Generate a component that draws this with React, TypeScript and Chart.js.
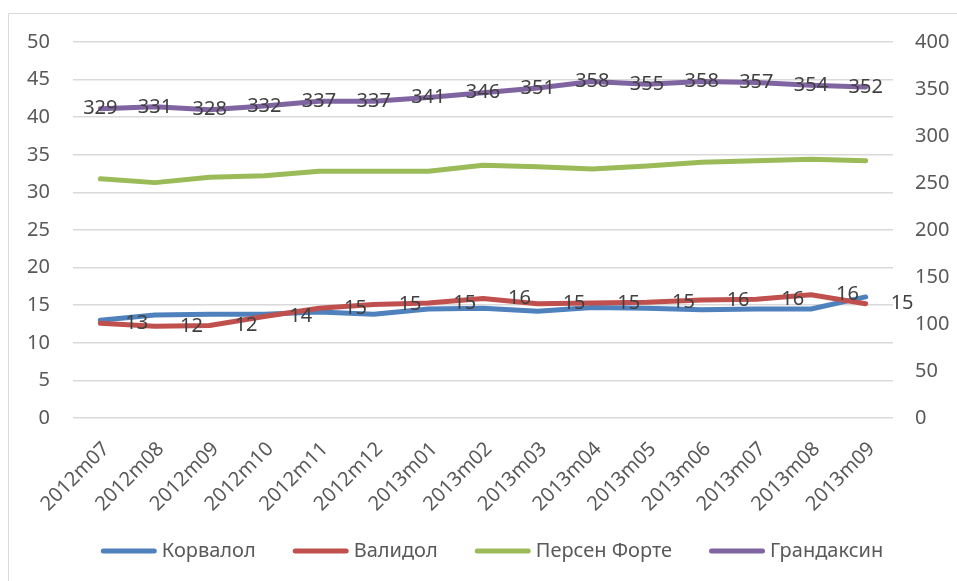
import React, { useEffect, useRef } from "react";
import { Chart, registerables } from "chart.js";

Chart.register(...registerables);

const categories = [
  "2012m07", "2012m08", "2012m09", "2012m10", "2012m11", "2012m12",
  "2013m01", "2013m02", "2013m03", "2013m04", "2013m05", "2013m06",
  "2013m07", "2013m08", "2013m09",
];
const korvalol = [13.0, 13.7, 13.8, 13.8, 14.1, 13.8, 14.5, 14.6, 14.2, 14.7, 14.6, 14.4, 14.5, 14.5, 16.1];
const validol = [12.6, 12.2, 12.3, 13.5, 14.6, 15.1, 15.3, 15.9, 15.2, 15.3, 15.4, 15.7, 15.8, 16.4, 15.2];
const persen = [31.8, 31.3, 32.0, 32.2, 32.8, 32.8, 32.8, 33.6, 33.4, 33.1, 33.5, 34.0, 34.2, 34.4, 34.2];
const grandaksin = [329, 331, 328, 332, 337, 337, 341, 346, 351, 358, 355, 358, 357, 354, 352];
const seriesNames = ["Корвалол", "Валидол", "Персен Форте", "Грандаксин"];
const seriesColors = ["#4F81BD", "#C0504D", "#9BBB59", "#8064A2"];

const FONT = "'Noto Sans', sans-serif";

const chartPlugin = {
  id: "extras",
  beforeDraw(chart: any) {
    const ctx = chart.ctx;
    ctx.save();
    ctx.strokeStyle = "#d9d9d9";
    ctx.lineWidth = 1;
    ctx.beginPath();
    ctx.moveTo(8.5, 600);
    ctx.lineTo(8.5, 13.5);
    ctx.lineTo(1000, 13.5);
    ctx.stroke();
    ctx.restore();
  },
  afterDatasetsDraw(chart: any) {
    const ctx = chart.ctx;
    ctx.save();
    ctx.font = `20px ${FONT}`;
    ctx.fillStyle = "#404040";
    ctx.textBaseline = "middle";
    const m3 = chart.getDatasetMeta(3);
    ctx.textAlign = "center";
    m3.data.forEach((pt: any, i: number) => {
      ctx.fillText(String(Math.round(grandaksin[i])), pt.x, pt.y);
    });
    const m1 = chart.getDatasetMeta(1);
    ctx.textAlign = "left";
    m1.data.forEach((pt: any, i: number) => {
      ctx.fillText(String(Math.round(validol[i])), pt.x + 25, pt.y);
    });
    ctx.restore();
  },
  afterDraw(chart: any) {
    const ctx = chart.ctx;
    const xs = chart.scales.x;
    const bottom = chart.chartArea.bottom;
    ctx.save();
    ctx.font = `20px ${FONT}`;
    ctx.fillStyle = "#595959";
    ctx.textAlign = "right";
    ctx.textBaseline = "alphabetic";
    categories.forEach((c, i) => {
      const px = xs.getPixelForValue(i);
      ctx.save();
      ctx.translate(px, bottom + 22);
      ctx.rotate(-Math.PI / 4);
      ctx.fillText(c, 0, 14);
      ctx.restore();
    });
    ctx.restore();

    ctx.save();
    ctx.font = `20px ${FONT}`;
    const lineLen = 56;
    const gapText = 5;
    const gapItem = 37;
    const widths = seriesNames.map((n) => ctx.measureText(n).width);
    const total = widths.reduce((s, w) => s + lineLen + gapText + w, 0) + gapItem * (seriesNames.length - 1);
    let x = 492 - total / 2;
    const y = 551;
    seriesNames.forEach((n, i) => {
      ctx.strokeStyle = seriesColors[i];
      ctx.lineWidth = 5;
      ctx.lineCap = "round";
      ctx.beginPath();
      ctx.moveTo(x + 2.5, y);
      ctx.lineTo(x + lineLen - 2.5, y);
      ctx.stroke();
      ctx.fillStyle = "#595959";
      ctx.textAlign = "left";
      ctx.textBaseline = "middle";
      ctx.fillText(n, x + lineLen + gapText, y);
      x += lineLen + gapText + widths[i] + gapItem;
    });
    ctx.restore();
  },
};

export default function App() {
  const ref = useRef<HTMLCanvasElement>(null);
  useEffect(() => {
    if (!ref.current) return;
    const mk = (i: number, data: number[], axis: string, order: number) => ({
      label: seriesNames[i],
      data,
      borderColor: seriesColors[i],
      backgroundColor: seriesColors[i],
      borderWidth: 5,
      pointRadius: 0,
      tension: 0,
      borderCapStyle: "round",
      borderJoinStyle: "round",
      yAxisID: axis,
      order,
    });
    const chart = new Chart(ref.current, {
      type: "line",
      data: {
        labels: categories,
        datasets: [
          mk(0, korvalol, "y", 4),
          mk(1, validol, "y", 3),
          mk(2, persen, "y", 2),
          mk(3, grandaksin, "y1", 1),
        ] as any,
      },
      options: {
        animation: false,
        responsive: true,
        maintainAspectRatio: false,
        layout: { padding: { left: 27, right: 7, top: 42, bottom: 163 } },
        plugins: {
          tooltip: { enabled: false },
          legend: { display: false },
        },
        scales: {
          x: {
            offset: true,
            grid: { display: false, drawTicks: false },
            border: { display: false },
            ticks: { display: false },
          },
          y: {
            position: "left",
            min: 0,
            max: 50,
            grid: { color: "#d9d9d9", lineWidth: 1.5, drawTicks: false },
            border: { display: false },
            ticks: {
              stepSize: 5,
              color: "#595959",
              font: { family: FONT, size: 20 },
              padding: 23,
            },
            afterFit(scale: any) {
              scale.width = 46;
            },
          },
          y1: {
            position: "right",
            min: 0,
            max: 400,
            grid: { display: false, drawTicks: false },
            border: { display: false },
            ticks: {
              stepSize: 50,
              color: "#595959",
              font: { family: FONT, size: 20 },
              padding: 22,
            },
            afterFit(scale: any) {
              scale.width = 57;
            },
          },
        },
      } as any,
      plugins: [chartPlugin],
    });
    return () => chart.destroy();
  }, []);
  return (
    <div style={{ position: "fixed", left: 0, top: 0, width: 957, height: 581, background: "#fff" }}>
      <canvas ref={ref} />
    </div>
  );
}
